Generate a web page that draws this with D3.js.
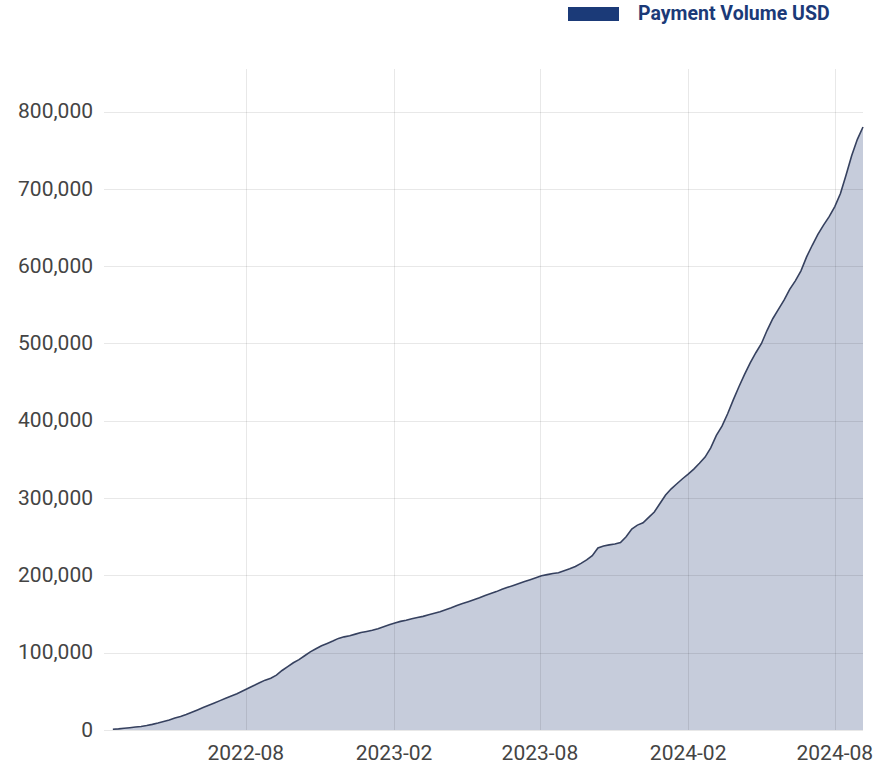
<!DOCTYPE html>
<html>
<head>
<meta charset="utf-8">
<script src="https://cdn.jsdelivr.net/npm/d3@7"></script>
<style>
  body { margin: 0; background: #fff; }
  svg text { font-family: Roboto, "Liberation Sans", sans-serif; }
</style>
</head>
<body>
<div id="chart"></div>
<script>
// weekly cumulative payment volume, in thousands of USD, starting 2022-02-17
const startDate = new Date(2022, 1, 17)
const volumeK = [
  1, 1.5, 2.3, 3, 3.8, 4.6, 5.8, 7.3, 9, 11,
  13, 15.5, 17.5, 20, 23, 26, 29, 32, 35, 38,
  41, 44, 47, 50.5, 54, 57.5, 61, 64.5, 67, 71,
  77, 82, 87, 91, 96, 101, 105, 109, 112, 115,
  118.5, 120.5, 122, 124, 126, 127.5, 129, 131, 133.5, 136,
  138.5, 140.5, 142, 144, 145.5, 147, 149, 151, 153, 155.5,
  158, 161, 163.5, 166, 168.5, 171, 174, 176.5, 179, 182,
  184.5, 187, 189.5, 192, 194.5, 197, 199.5, 201, 202.5, 203.5,
  206, 208.5, 211.5, 215.5, 220, 225.5, 235.5, 238, 239.5, 240.5,
  242.5, 250, 260, 265, 268, 275, 282, 293, 304, 312,
  318.5, 325, 331, 337.5, 345, 353, 365, 381, 393, 409,
  427, 444, 460, 475, 488, 500, 517, 532, 544, 556,
  570, 581, 594, 612, 627, 641, 653, 664, 677, 694,
  718, 743, 764, 780
]
const yTicks = [0, 100000, 200000, 300000, 400000, 500000, 600000, 700000, 800000]
const xTicks = ["2022-08", "2023-02", "2023-08", "2024-02", "2024-08"]
const seriesName = "Payment Volume USD"

const data = volumeK.map((v, i) => ({date: d3.timeDay.offset(startDate, 7 * i), value: v * 1000}))

const width = 888, height = 766
const margin = {top: 69, right: 25, bottom: 36, left: 104}

const svg = d3.select("#chart").append("svg")
    .attr("width", width)
    .attr("height", height)

const x = d3.scaleTime()
    .domain([new Date(2022, 1, 6), new Date(2024, 8, 5)])
    .range([margin.left, width - margin.right])

const y = d3.scaleLinear()
    .domain([0, 855000])
    .range([height - margin.bottom, margin.top])

const parseMonth = d3.timeParse("%Y-%m")

// area + line
const area = d3.area()
    .x(d => x(d.date))
    .y0(y(0))
    .y1(d => y(d.value))

const line = d3.line()
    .x(d => x(d.date))
    .y(d => y(d.value))

svg.append("path")
    .datum(data)
    .attr("d", area)
    .attr("fill", "#c6ccdb")

// grid drawn over the fill
const grid = svg.append("g")
grid.selectAll("line.h")
    .data(yTicks)
    .join("line")
    .attr("x1", margin.left)
    .attr("x2", width - margin.right)
    .attr("y1", d => Math.round(y(d)) + 0.5)
    .attr("y2", d => Math.round(y(d)) + 0.5)
    .attr("stroke", "rgba(0,0,0,0.09)")

grid.selectAll("line.v")
    .data(xTicks)
    .join("line")
    .attr("x1", d => Math.round(x(parseMonth(d))) + 0.5)
    .attr("x2", d => Math.round(x(parseMonth(d))) + 0.5)
    .attr("y1", margin.top)
    .attr("y2", height - margin.bottom)
    .attr("stroke", "rgba(0,0,0,0.09)")

svg.append("path")
    .datum(data)
    .attr("d", line)
    .attr("fill", "none")
    .attr("stroke", "#36415f")
    .attr("stroke-width", 1.6)

// y labels
svg.append("g").selectAll("text")
    .data(yTicks)
    .join("text")
    .attr("x", 93)
    .attr("y", d => y(d))
    .attr("dy", "0.32em")
    .attr("text-anchor", "end")
    .style("font-size", "21px")
    .style("fill", "#444")
    .text(d => d3.format(",")(d))

// x labels
svg.append("g").selectAll("text")
    .data(xTicks)
    .join("text")
    .attr("x", d => x(parseMonth(d)))
    .attr("y", 760)
    .attr("text-anchor", "middle")
    .style("font-size", "21px")
    .style("fill", "#444")
    .text(d => d)

// legend
svg.append("rect").attr("x", 568).attr("y", 7).attr("width", 51).attr("height", 14).attr("fill", "#1b3a78")
svg.append("text").attr("x", 638).attr("y", 20)
    .text(seriesName)
    .style("font-size", "19.5px")
    .style("font-weight", "bold")
    .style("fill", "#1b3a78")
</script>
</body>
</html>
